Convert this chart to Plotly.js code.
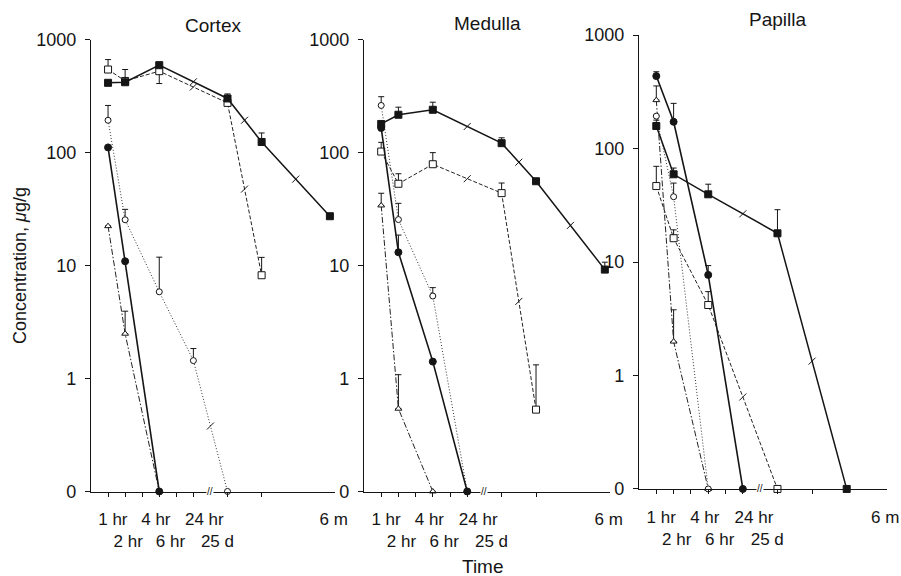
<!DOCTYPE html>
<html>
<head>
<meta charset="utf-8">
<script src="https://cdn.plot.ly/plotly-3.0.1.min.js"></script>
<style>
html,body{margin:0;padding:0;background:#fff;}
#chart{width:901px;height:576px;}
</style>
</head>
<body>
<div id="chart"></div>
<script>
// ---------------- data ----------------
// A value of 0 means "not detected"; it is drawn on the axis line labelled "0".
const panelNames = ['Cortex', 'Medulla', 'Papilla'];
const timeLabels = ['1 hr', '2 hr', '4 hr', '6 hr', '24 hr', '25 d', '6 m'];
const timeSlots  = [1, 2, 4, 6, 8, 10, 14];   // time scale position of each label
const yTickVals  = [0.1, 1, 10, 100, 1000];
const yTickText  = ['0', '1', '10', '100', '1000'];

// Cortex
const cortexFilledSquareX   = [1, 2, 4, 8, 10, 14];
const cortexFilledSquareY   = [414, 419, 593, 301, 124, 27.3];
const cortexFilledSquareErr = [0, 124, 37, 29, 25, 0];
const cortexOpenSquareX     = [1, 2, 4, 8, 10];
const cortexOpenSquareY     = [543, 430, 525, 275, 8.2];
const cortexOpenSquareErr   = [122, 0, 0, 0, 3.6];
const cortexOpenSquareErrLo = [0, 0, 117, 0, 0];
const cortexOpenCircleX     = [1, 2, 4, 6, 8];
const cortexOpenCircleY     = [193, 25.4, 5.85, 1.44, 0];
const cortexOpenCircleErr   = [68, 6, 6, 0.4, 0];
const cortexFilledCircleX   = [1, 2, 4];
const cortexFilledCircleY   = [111, 10.9, 0];
const cortexFilledCircleErr = [0, 0, 0];
const cortexTriangleX       = [1, 2, 4];
const cortexTriangleY       = [22.3, 2.49, 0];
const cortexTriangleErr     = [0, 1.45, 0];

// Medulla
const medullaFilledSquareX   = [1, 2, 4, 8, 10, 14];
const medullaFilledSquareY   = [179, 216, 239, 121, 55.7, 9.2];
const medullaFilledSquareErr = [0, 36, 40, 14, 0, 1.5];
const medullaOpenSquareX     = [1, 2, 4, 8, 10];
const medullaOpenSquareY     = [102, 52.9, 78.8, 43.7, 0.53];
const medullaOpenSquareErr   = [21, 12, 21, 10, 0.79];
const medullaOpenCircleX     = [1, 2, 4, 6];
const medullaOpenCircleY     = [261, 25.5, 5.37, 0];
const medullaOpenCircleErr   = [51, 10, 1.0, 0];
const medullaFilledCircleX   = [1, 2, 4, 6];
const medullaFilledCircleY   = [165, 13.1, 1.41, 0];
const medullaFilledCircleErr = [0, 5.5, 0, 0];
const medullaTriangleX       = [1, 2, 4];
const medullaTriangleY       = [34, 0.54, 0];
const medullaTriangleErr     = [9.6, 0.54, 0];

// Papilla
const papillaFilledSquareX   = [1, 2, 4, 8, 12];
const papillaFilledSquareY   = [158, 59.3, 39.5, 17.9, 0];
const papillaFilledSquareErr = [20, 8, 9, 11, 0];
const papillaOpenSquareX     = [1, 2, 4, 8];
const papillaOpenSquareY     = [46.7, 16.2, 4.18, 0];
const papillaOpenSquareErr   = [23, 3, 1.3, 0];
const papillaOpenCircleX     = [1, 2, 4];
const papillaOpenCircleY     = [193, 37.6, 0];
const papillaOpenCircleErr   = [0, 12, 0];
const papillaFilledCircleX   = [1, 2, 4, 6];
const papillaFilledCircleY   = [435, 172, 7.7, 0];
const papillaFilledCircleErr = [40, 78, 1.6, 0];
const papillaTriangleX       = [1, 2, 4];
const papillaTriangleY       = [267, 1.99, 0];
const papillaTriangleErr     = [89, 1.8, 0];

// ---------------- styling / layout ----------------
const INK = '#151515';
const FONT = 'Liberation Sans, Arial, Helvetica, sans-serif';
const ZERO_LEVEL = 0.1;   // where "0" sits on the log axis

const styles = {
  triangle:     {symbol: 'triangle-up', size: 6, fill: '#fff', width: 1,   dash: '6px,2px,1.5px,2px', color: '#222'},
  openCircle:   {symbol: 'circle',      size: 6, fill: '#fff', width: 1,   dash: '1px,2px',           color: '#333'},
  openSquare:   {symbol: 'square',      size: 7, fill: '#fff', width: 1,   dash: '4px,2px',           color: '#222'},
  filledCircle: {symbol: 'circle',      size: 7, fill: INK,    width: 1.6, dash: 'solid',             color: INK},
  filledSquare: {symbol: 'square',      size: 7, fill: INK,    width: 1.5, dash: 'solid',             color: INK}
};

const panels = [
  {suffix: '', series: [
    ['triangle', cortexTriangleX, cortexTriangleY, cortexTriangleErr],
    ['openCircle', cortexOpenCircleX, cortexOpenCircleY, cortexOpenCircleErr],
    ['openSquare', cortexOpenSquareX, cortexOpenSquareY, cortexOpenSquareErr, cortexOpenSquareErrLo],
    ['filledCircle', cortexFilledCircleX, cortexFilledCircleY, cortexFilledCircleErr],
    ['filledSquare', cortexFilledSquareX, cortexFilledSquareY, cortexFilledSquareErr]
  ]},
  {suffix: '2', series: [
    ['triangle', medullaTriangleX, medullaTriangleY, medullaTriangleErr],
    ['openCircle', medullaOpenCircleX, medullaOpenCircleY, medullaOpenCircleErr],
    ['openSquare', medullaOpenSquareX, medullaOpenSquareY, medullaOpenSquareErr],
    ['filledCircle', medullaFilledCircleX, medullaFilledCircleY, medullaFilledCircleErr],
    ['filledSquare', medullaFilledSquareX, medullaFilledSquareY, medullaFilledSquareErr]
  ]},
  {suffix: '3', series: [
    ['triangle', papillaTriangleX, papillaTriangleY, papillaTriangleErr],
    ['openCircle', papillaOpenCircleX, papillaOpenCircleY, papillaOpenCircleErr],
    ['openSquare', papillaOpenSquareX, papillaOpenSquareY, papillaOpenSquareErr],
    ['filledCircle', papillaFilledCircleX, papillaFilledCircleY, papillaFilledCircleErr],
    ['filledSquare', papillaFilledSquareX, papillaFilledSquareY, papillaFilledSquareErr]
  ]}
];

const traces = [];
panels.forEach(function (panel) {
  const xa = 'x' + panel.suffix, ya = 'y' + panel.suffix;
  const slashX = [], slashY = [];
  panel.series.forEach(function (s) {
    const st = styles[s[0]];
    const xs = s[1];
    const ys = s[2].map(function (v) { return v > 0 ? v : ZERO_LEVEL; });
    const lo = s[4] || s[3].map(function () { return 0; });
    const hi = s[3].map(function (v, i) { return (v > 0 || lo[i] > 0) ? v : NaN; });
    traces.push({
      type: 'scatter', mode: 'lines+markers', xaxis: xa, yaxis: ya,
      x: xs, y: ys, showlegend: false, hoverinfo: 'x+y', cliponaxis: false,
      line: {color: st.color, width: st.width, dash: st.dash},
      marker: {symbol: st.symbol, size: st.size, color: st.fill, line: {color: INK, width: 1}},
      error_y: {type: 'data', symmetric: false, array: hi, arrayminus: lo,
                color: INK, thickness: 1, width: 3, visible: true}
    });
    // small break slashes on segments that cross the time-axis break
    for (let i = 0; i + 1 < xs.length; i++) {
      if (xs[i + 1] >= 8) {
        slashX.push((xs[i] + xs[i + 1]) / 2);
        slashY.push(Math.pow(10, (Math.log10(ys[i]) + Math.log10(ys[i + 1])) / 2));
      }
    }
  });
  traces.push({
    type: 'scatter', mode: 'markers', xaxis: xa, yaxis: ya, x: slashX, y: slashY,
    showlegend: false, hoverinfo: 'skip', cliponaxis: false,
    marker: {symbol: 'line-ne', size: 7, color: INK, line: {color: INK, width: 1}}
  });
});

// pixel geometry of the three panels
const W = 901, H = 576;
const xDomainsPx = [[91, 335], [364, 610], [639, 886.5]];
const yDomainsPx = [[39.5, 491.5], [39.5, 491.5], [35, 489]];
const xTickLabelSlots = [1.28, 2.18, 3.8, 4.66, 6.64, 7.41, 14.22];
const xTickLabelRow   = [0, 1, 0, 1, 0, 1, 0];
const titlePx = [[213, 25], [487, 23], [777, 20]];

const layout = {
  width: W, height: H,
  margin: {l: 0, r: 0, t: 0, b: 0},
  paper_bgcolor: '#fff', plot_bgcolor: 'rgba(0,0,0,0)',
  font: {family: FONT, color: INK},
  showlegend: false,
  annotations: []
};

panels.forEach(function (panel, p) {
  const s = panel.suffix;
  layout['xaxis' + s] = {
    domain: [xDomainsPx[p][0] / W, xDomainsPx[p][1] / W],
    anchor: 'y' + s, range: [0, 14.3],
    showline: true, linecolor: INK, linewidth: 1.2,
    showgrid: false, zeroline: false, fixedrange: true,
    tickmode: 'array', tickvals: xTickLabelSlots,
    ticktext: timeLabels.map(function (t, i) { return xTickLabelRow[i] ? '<br>' + t : t; }),
    ticks: '', tickangle: 0, ticklabelstandoff: 12,
    tickfont: {family: FONT, size: 17, color: INK},
    minor: {tickmode: 'array', tickvals: [1, 2, 3, 4, 5, 6].concat(timeSlots.slice(4, 6)),
            ticks: 'outside', ticklen: 4, tickwidth: 1, tickcolor: INK, showgrid: false}
  };
  layout['yaxis' + s] = {
    domain: [1 - yDomainsPx[p][1] / H, 1 - yDomainsPx[p][0] / H],
    anchor: 'x' + s, type: 'log', range: [-1.0005, 3.0005],
    showline: true, linecolor: INK, linewidth: 1.2,
    showgrid: false, zeroline: false, fixedrange: true,
    tickmode: 'array', tickvals: yTickVals, ticktext: yTickText,
    ticks: 'outside', ticklen: 5, tickwidth: 1, tickcolor: INK,
    ticklabelstandoff: 5,
    tickfont: {family: FONT, size: 18, color: INK}
  };
  layout.annotations.push({
    text: panelNames[p], xref: 'paper', yref: 'paper',
    x: titlePx[p][0] / W, y: 1 - titlePx[p][1] / H,
    xanchor: 'center', yanchor: 'middle', showarrow: false,
    font: {family: FONT, size: 19, color: INK}
  });
  // axis-break mark on the time axis
  layout.annotations.push({
    text: '//', xref: 'x' + s, yref: 'y' + s, x: 7, y: -1,
    xanchor: 'center', yanchor: 'middle', showarrow: false,
    bgcolor: '#fff', borderpad: 0,
    font: {family: FONT, size: 10, color: INK}
  });
});

layout.annotations.push({
  text: 'Concentration, <i>μ</i>g/g', xref: 'paper', yref: 'paper',
  x: 20 / W, y: 1 - 266 / H, textangle: -90,
  xanchor: 'center', yanchor: 'middle', showarrow: false,
  font: {family: FONT, size: 18, color: INK}
});
layout.annotations.push({
  text: 'Time', xref: 'paper', yref: 'paper',
  x: 483 / W, y: 1 - 566 / H,
  xanchor: 'center', yanchor: 'middle', showarrow: false,
  font: {family: FONT, size: 19, color: INK}
});

Plotly.newPlot('chart', traces, layout, {displayModeBar: false, staticPlot: true});
</script>
</body>
</html>
